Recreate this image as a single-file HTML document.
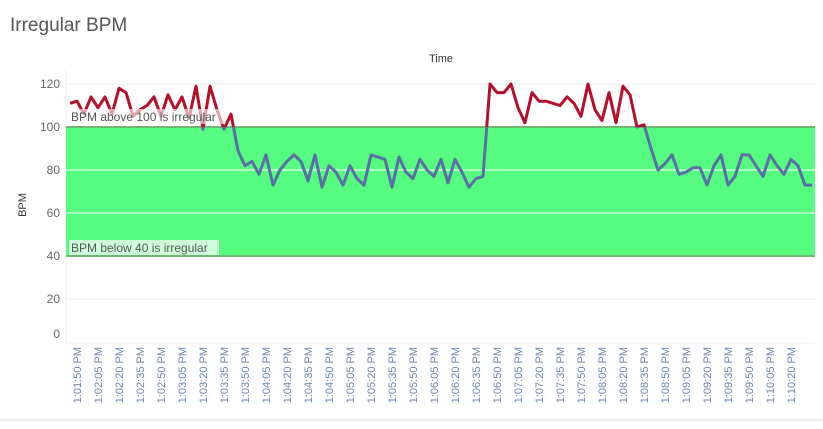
<!DOCTYPE html>
<html><head><meta charset="utf-8"><style>
body{margin:0;background:#fff;font-family:"Liberation Sans",sans-serif;}
svg text{font-family:"Liberation Sans",sans-serif;}
</style></head><body>
<svg id="chart" width="823" height="424">
<text x="10" y="31" font-size="19" fill="#555">Irregular BPM</text>
<text x="441" y="62" font-size="11" fill="#333" text-anchor="middle">Time</text>
<text transform="translate(26,205) rotate(-90)" font-size="11" fill="#333" text-anchor="middle">BPM</text>
<g id="grid"></g><g id="band"></g><g id="lines"></g><g id="ann"></g><g id="xt"></g>
<line x1="0" y1="420" x2="823" y2="420" stroke="#ddd"/>
</svg>
<script>
const yTicks=[0,20,40,60,80,100,120];
const bandLow=40, bandHigh=100;
const bpm=[111,112,106,114,109,114,106,118,116,105,108,110,114,105,115,108,114,104,119,99,119,108,99,106,89,82,84,78,87,73,80,84,87,84,75,87,72,82,79,73,82,76,73,87,86,85,72,86,79,76,85,80,77,85,74,85,79,72,76,77,120,116,116,120,109,102,116,112,112,111,110,114,111,105,120,108,103,116,102,119,115,100,101,90,80,83,87,78,79,81,81,73,82,87,73,77,87,87,82,77,87,82,78,85,82,73,73];
const startSec=1*3600+1*60+45;
const stepSec=5;
const tickLabels=["1:01:50 PM","1:02:05 PM","1:02:20 PM","1:02:35 PM","1:02:50 PM","1:03:05 PM","1:03:20 PM","1:03:35 PM","1:03:50 PM","1:04:05 PM","1:04:20 PM","1:04:35 PM","1:04:50 PM","1:05:05 PM","1:05:20 PM","1:05:35 PM","1:05:50 PM","1:06:05 PM","1:06:20 PM","1:06:35 PM","1:06:50 PM","1:07:05 PM","1:07:20 PM","1:07:35 PM","1:07:50 PM","1:08:05 PM","1:08:20 PM","1:08:35 PM","1:08:50 PM","1:09:05 PM","1:09:20 PM","1:09:35 PM","1:09:50 PM","1:10:05 PM","1:10:20 PM"];
const NS="http://www.w3.org/2000/svg";
const L=66,R=815;
const y=v=>127+(100-v)*2.15;
const xi=i=>70+i*(742/(bpm.length-1));
function mk(t,a,p){const e=document.createElementNS(NS,t);for(const k in a)e.setAttribute(k,a[k]);(p||document.getElementById('chart')).appendChild(e);return e;}
const grid=document.getElementById('grid');
yTicks.forEach(v=>{
 const yy=v===0?343:y(v);
 const g=mk('line',{x1:L,x2:R,y1:yy,y2:yy,stroke:'#eee'},grid);
 
 
 const t=mk('text',{x:60,y:(v===0?334:y(v))+4,'font-size':12,fill:'#666','text-anchor':'end'},grid);
 t.textContent=v;
 
 
});
mk('line',{x1:L,x2:L,y1:70,y2:343,stroke:'#eee'},grid);
const band=document.getElementById('band');
const r=mk('rect',{x:L,y:y(bandHigh),width:R-L,height:y(bandLow)-y(bandHigh),fill:'#55fc80'},band);


[80,60].forEach(v=>{const l=mk('line',{x1:L,x2:R,y1:y(v),y2:y(v),stroke:'#fff','stroke-width':1},band);
 
 });
[bandHigh,bandLow].forEach(v=>{const l=mk('line',{x1:L,x2:R,y1:y(v),y2:y(v),stroke:'#6cb86c','stroke-width':2},band);
 
 });
const lines=document.getElementById('lines');
const defs=mk('defs',{},lines);
const ca=mk('clipPath',{id:'above'},defs);mk('rect',{x:0,y:0,width:823,height:y(100)},ca);
const cb=mk('clipPath',{id:'below'},defs);mk('rect',{x:0,y:y(100),width:823,height:424},cb);
const d=bpm.map((v,i)=>(i?'L':'M')+xi(i).toFixed(1)+','+y(v).toFixed(1)).join('');
const p1=mk('path',{d:d,fill:'none',stroke:'#b5102b','stroke-width':3,'stroke-linejoin':'round','clip-path':'url(#above)'},lines);


const p2=mk('path',{d:d,fill:'none',stroke:'#5a6fa6','stroke-width':3,'stroke-linejoin':'round','clip-path':'url(#below)'},lines);


const ann=document.getElementById('ann');
const a1b=mk('rect',{x:69,y:109,width:155,height:15,fill:'#fff','fill-opacity':0.6},ann);
const a1=mk('text',{x:71,y:121,'font-size':12,fill:'#555'},ann);a1.textContent='BPM above 100 is irregular';


const a2b=mk('rect',{x:69,y:240,width:150,height:15,fill:'#fff','fill-opacity':0.7},ann);
const a2=mk('text',{x:71,y:252,'font-size':12,fill:'#555'},ann);a2.textContent='BPM below 40 is irregular';


const xt=document.getElementById('xt');
tickLabels.forEach((s,k)=>{
 const p=s.split(' ')[0].split(':').map(Number);
 const sec=p[0]*3600+p[1]*60+p[2];
 const i=(sec-startSec)/stepSec;
 const xx=70+i*(742/(bpm.length-1));
 const t=mk('text',{transform:`translate(${xx+4},347) rotate(-90)`,'font-size':11,fill:'#6a87b0','text-anchor':'end'},xt);
 t.textContent=s;
 
 
});
</script>
</body></html>
